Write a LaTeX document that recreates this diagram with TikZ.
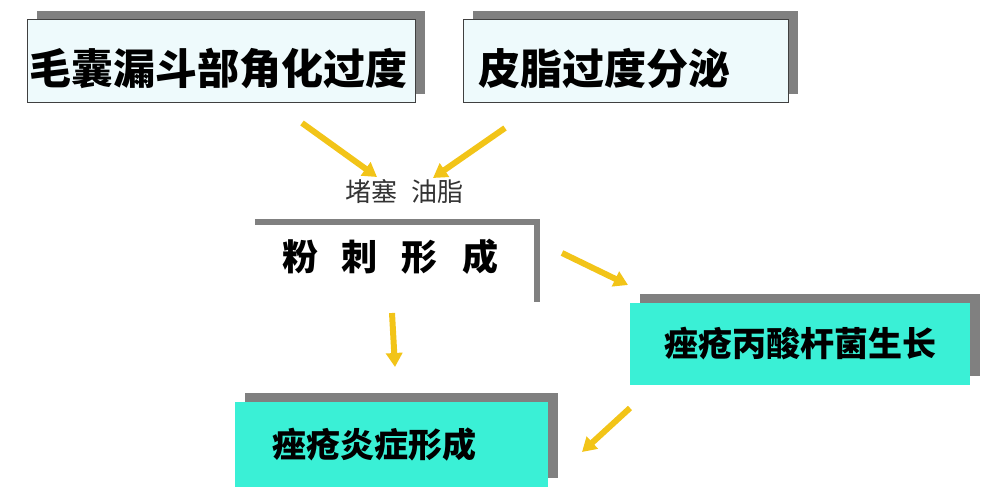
\documentclass[tikz,border=0pt]{standalone}
\usepackage{fontspec}
\newfontfamily\cjk{Noto Sans CJK SC}
\usetikzlibrary{arrows.meta, shadows}
\definecolor{paleblue}{RGB}{238,250,252}
\definecolor{acneteal}{RGB}{58,240,214}
\definecolor{shadowgray}{RGB}{128,128,128}
\definecolor{arrowyellow}{RGB}{242,196,24}
\definecolor{labelgray}{RGB}{51,51,51}

\begin{document}
\begin{tikzpicture}[x=1pt, y=-1pt,
  box/.style={inner ysep=0pt, minimum height=83pt, align=left,
    general shadow={shadow xshift=10pt, shadow yshift=9pt, fill=shadowgray}},
  topbox/.style={box, draw=black!75, line width=1pt, fill=paleblue, text height=50pt,
    font=\cjk\bfseries\fontsize{42}{42}\selectfont},
  greenbox/.style={box, fill=acneteal, font=\cjk\bfseries\fontsize{34}{34}\selectfont},
  bracket/.style={draw=shadowgray, line width=6pt},
  flow/.style={draw=arrowyellow, line width=6pt, -{Triangle[width=16pt,length=14pt]}}]
  \useasboundingbox (0,0) rectangle (995,502);

  % Causes
  \node[topbox, text width=384pt, inner xsep=2pt] (keratin) at (221,61.5) {毛囊漏斗部角化过度};
  \node[topbox, text width=295pt, inner xsep=15pt] (sebum) at (625.5,61.5) {皮脂过度分泌};
  \node[font=\cjk\fontsize{26}{26}\selectfont, text=labelgray] (plug) at (404.5,192) {堵塞\hspace{15pt}油脂};

  % Comedo
  \node[font=\cjk\bfseries\fontsize{36}{36}\selectfont, text width=228pt, inner xsep=27pt,
    minimum height=80pt, text depth=14pt, align=left] (comedo) at (396,262)
    {粉\hspace{24pt}刺\hspace{24pt}形\hspace{24pt}成};
  \draw[bracket] (comedo.north west) -- (comedo.north east) -- (comedo.south east);

  % Results
  \node[greenbox, text width=300pt, inner xsep=20pt, minimum height=82pt, align=center] (bacteria) at (800,344) {痤疮丙酸杆菌生长};
  \node[greenbox, text width=239pt, inner xsep=37pt, minimum height=85pt] (inflame) at (391.5,444.5) {痤疮炎症形成};

  % Arrows
  \coordinate (a1s) at (302,123); \coordinate (a1e) at (377,177);
  \coordinate (a2s) at (505,128); \coordinate (a2e) at (433,178);
  \coordinate (a3s) at (562,253); \coordinate (a3e) at (628,285);
  \coordinate (a4s) at (392,313); \coordinate (a4e) at (395,367);
  \coordinate (a5s) at (630,408); \coordinate (a5e) at (582,452);
  \foreach \s/\e in {a1s/a1e, a2s/a2e, a3s/a3e, a4s/a4e, a5s/a5e} {
    \draw[flow] (\s) -- (\e);
  }
\end{tikzpicture}
\end{document}
